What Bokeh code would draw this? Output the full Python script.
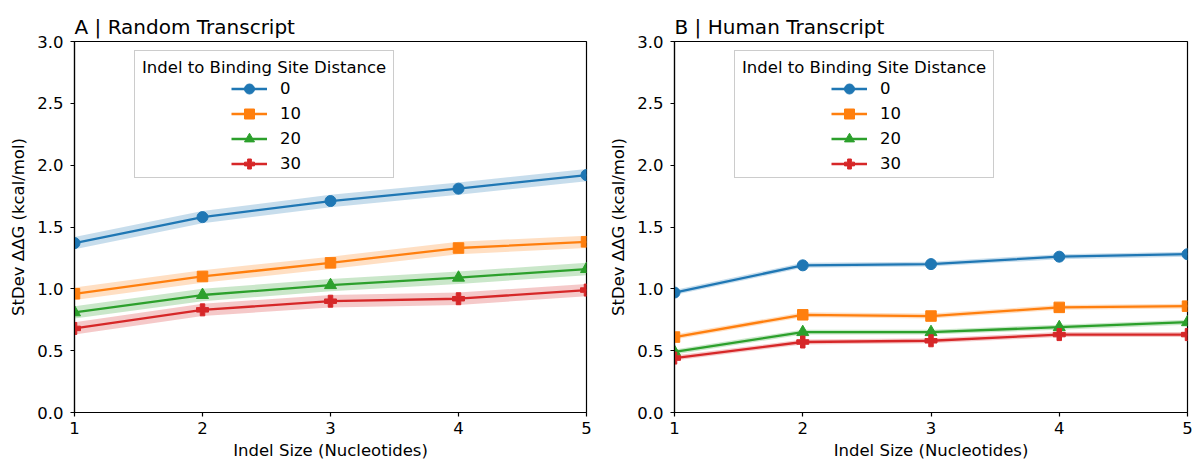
from bokeh.plotting import figure
from bokeh.layouts import row
from bokeh.models import Range1d, FixedTicker, Legend, LegendItem, PrintfTickFormatter
from bokeh.embed import file_html
from bokeh.resources import INLINE

indel_sizes = [1, 2, 3, 4, 5]
distances = ["0", "10", "20", "30"]

random_0 = [1.37, 1.58, 1.71, 1.81, 1.92]
random_10 = [0.96, 1.10, 1.21, 1.33, 1.38]
random_20 = [0.81, 0.95, 1.03, 1.09, 1.16]
random_30 = [0.68, 0.83, 0.90, 0.92, 0.99]
random_err = [0.05, 0.05, 0.05, 0.05, 0.05]

human_0 = [0.97, 1.19, 1.20, 1.26, 1.28]
human_10 = [0.61, 0.79, 0.78, 0.85, 0.86]
human_20 = [0.49, 0.65, 0.65, 0.69, 0.73]
human_30 = [0.44, 0.57, 0.58, 0.63, 0.63]
human_err = [0.02, 0.02, 0.02, 0.02, 0.02]

y_ticks = [0.0, 0.5, 1.0, 1.5, 2.0, 2.5, 3.0]

colors = ["#1f77b4", "#ff7f0e", "#2ca02c", "#d62728"]
markers = ["circle", "square", "triangle", "plus"]
sizes = [11, 10.5, 12, 12]
FONT = "DejaVu Sans"
FS = "16.5px"


def make_panel(title, series, err, width):
    p = figure(width=width, height=464, output_backend="svg", toolbar_location=None,
               x_range=Range1d(1, 5), y_range=Range1d(0, 3),
               min_border_left=74, min_border_right=14, min_border_top=41,
               min_border_bottom=52, title=title)
    p.title.text_font = FONT
    p.title.text_font_size = "20px"
    p.title.text_font_style = "normal"
    p.title.text_color = "black"
    p.title.align = "left"
    p.title.offset = 0
    p.title.standoff = 6
    p.outline_line_color = "black"
    p.outline_line_width = 1.2
    p.outline_line_alpha = 1.0
    p.xgrid.visible = False
    p.ygrid.visible = False
    p.background_fill_color = "white"
    p.border_fill_color = "white"

    for ax in (p.xaxis[0], p.yaxis[0]):
        ax.axis_line_color = "black"
        ax.axis_line_width = 1.2
        ax.major_tick_line_color = "black"
        ax.major_tick_line_width = 1.2
        ax.major_tick_out = 4
        ax.major_tick_in = 0
        ax.minor_tick_line_color = None
        ax.major_label_text_font = FONT
        ax.major_label_text_font_size = FS
        ax.major_label_text_color = "black"
        ax.axis_label_text_font = FONT
        ax.axis_label_text_font_size = FS
        ax.axis_label_text_font_style = "normal"
        ax.axis_label_text_color = "black"
    p.xaxis[0].ticker = FixedTicker(ticks=indel_sizes)
    p.yaxis[0].ticker = FixedTicker(ticks=y_ticks)
    p.yaxis[0].formatter = PrintfTickFormatter(format="%.1f")
    p.xaxis[0].axis_label = "Indel Size (Nucleotides)"
    p.yaxis[0].axis_label = "StDev ΔΔG (kcal/mol)"
    p.xaxis[0].axis_label_standoff = 4
    p.yaxis[0].axis_label_standoff = 6
    p.xaxis[0].major_label_standoff = 5
    p.yaxis[0].major_label_standoff = 7

    items = []
    for vals, lab, c, m, s in zip(series, distances, colors, markers, sizes):
        lo = [v - e for v, e in zip(vals, err)]
        hi = [v + e for v, e in zip(vals, err)]
        p.varea(x=indel_sizes, y1=lo, y2=hi, fill_color=c, fill_alpha=0.25)
        r1 = p.line(x=indel_sizes, y=vals, line_color=c, line_width=2.3)
        r2 = p.scatter(x=indel_sizes, y=vals, marker=m, size=s, fill_color=c,
                       line_color=c)
        items.append(LegendItem(label=lab, renderers=[r1, r2]))

    ghost = p.scatter(x=[], y=[], size=1, fill_alpha=0, line_alpha=0)
    ghost_items = [LegendItem(label=" ", renderers=[ghost]) for _ in distances]

    box = Legend(items=ghost_items, location=(60, 234),
                 title="Indel to Binding Site Distance")
    box.title_text_font = FONT
    box.title_text_font_size = FS
    box.title_text_font_style = "normal"
    box.title_text_color = "black"
    box.label_text_font = FONT
    box.label_text_font_size = FS
    box.border_line_color = "#cccccc"
    box.border_line_alpha = 1.0
    box.border_line_width = 1.2
    box.background_fill_color = "white"
    box.background_fill_alpha = 0.8
    box.padding = 7
    box.spacing = 0
    box.glyph_width = 36
    box.glyph_height = 23
    box.label_height = 23
    box.title_standoff = 1
    box.margin = 0
    p.add_layout(box, "center")

    leg = Legend(items=items, location=(157, 236))
    leg.label_text_font = FONT
    leg.label_text_font_size = FS
    leg.label_text_color = "black"
    leg.border_line_color = None
    leg.background_fill_alpha = 0.0
    leg.padding = 0
    leg.spacing = 0
    leg.glyph_width = 36
    leg.glyph_height = 25
    leg.label_height = 25
    leg.label_standoff = 13
    leg.margin = 0
    p.add_layout(leg, "center")
    return p


pa = make_panel("A | Random Transcript", [random_0, random_10, random_20, random_30], random_err, 600)
pb = make_panel("B | Human Transcript", [human_0, human_10, human_20, human_30], human_err, 601)

layout = row(pa, pb)
open("out.html", "w").write(file_html(layout, INLINE))
